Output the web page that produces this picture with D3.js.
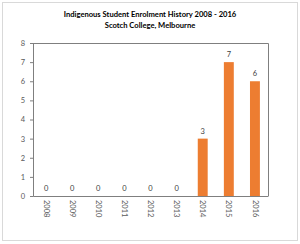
<!DOCTYPE html>
<html>
<head>
<meta charset="utf-8">
<script src="https://cdn.jsdelivr.net/npm/d3@7"></script>
<style>
  body { margin: 0; background: #fff; }
  text { font-family: Lato, "Open Sans", sans-serif; }
</style>
</head>
<body>
<div class="canvas"></div>
<script>
const years = ['2008', '2009', '2010', '2011', '2012', '2013', '2014', '2015', '2016'];
const enrolments = [0, 0, 0, 0, 0, 0, 3, 7, 6];
const yTicks = [0, 1, 2, 3, 4, 5, 6, 7, 8];
const titleLines = ['Indigenous Student Enrolment History 2008 - 2016', 'Scotch College, Melbourne'];

const svg = d3.select('.canvas')
    .append('svg')
        .attr('width', 300)
        .attr('height', 244);

// outer chart frame
svg.append('rect')
    .attr('x', 2.5).attr('y', 2.5)
    .attr('width', 295).attr('height', 238)
    .attr('fill', '#fff')
    .attr('stroke', '#d9d9d9');

const margin = {top: 43, right: 32, bottom: 48, left: 33};
const graphWidth = 300 - margin.left - margin.right;
const graphHeight = 244 - margin.top - margin.bottom;

const graph = svg.append('g')
    .attr('transform', `translate(${margin.left}, ${margin.top})`);

// title
svg.selectAll('text.title')
    .data(titleLines)
    .enter()
    .append('text')
        .attr('class', 'title')
        .attr('x', 150)
        .attr('y', (d, i) => 17 + i * 10.5)
        .attr('text-anchor', 'middle')
        .attr('font-size', 7.6)
        .attr('font-weight', 'bold')
        .attr('fill', '#000')
        .text(d => d);

const y = d3.scaleLinear()
    .domain([0, 8])
    .range([graphHeight, 0]);

const x = d3.scaleBand()
    .domain(years)
    .range([0, graphWidth])
    .paddingInner(0.62)
    .paddingOuter(0.31);

// plot area border (top and right)
graph.append('path')
    .attr('d', `M0,0.5H${graphWidth + 0.5}V${graphHeight}`)
    .attr('fill', 'none')
    .attr('stroke', '#7f7f7f')
    .attr('stroke-width', 1);

// bars
graph.selectAll('rect.bar')
    .data(enrolments)
    .enter()
    .append('rect')
        .attr('class', 'bar')
        .attr('x', (d, i) => x(years[i]))
        .attr('y', d => y(d))
        .attr('width', x.bandwidth())
        .attr('height', d => graphHeight - y(d))
        .attr('fill', '#ed7d31');

// value labels
graph.selectAll('text.val')
    .data(enrolments)
    .enter()
    .append('text')
        .attr('class', 'val')
        .attr('x', (d, i) => x(years[i]) + x.bandwidth() / 2)
        .attr('y', d => y(d) - 5)
        .attr('text-anchor', 'middle')
        .attr('font-size', 7.5)
        .attr('fill', '#404040')
        .text(d => d);

// axes
const yAxis = d3.axisLeft(y)
    .tickValues(yTicks)
    .tickSize(3)
    .tickPadding(5)
    .tickFormat(d3.format('d'));

const xAxis = d3.axisBottom(x)
    .tickSize(0)
    .tickPadding(4);

const yAxisGroup = graph.append('g').call(yAxis);
const xAxisGroup = graph.append('g')
    .attr('transform', `translate(0, ${graphHeight})`)
    .call(xAxis);

[yAxisGroup, xAxisGroup].forEach(g => {
    g.select('.domain').attr('stroke', '#7f7f7f');
    g.selectAll('.tick line').attr('stroke', '#7f7f7f');
    g.selectAll('text')
        .attr('font-family', 'Lato, "Open Sans", sans-serif')
        .attr('font-size', 7.5)
        .attr('fill', '#595959');
});

xAxisGroup.selectAll('text')
    .attr('transform', 'rotate(90)')
    .attr('text-anchor', 'start')
    .attr('dy', '0.32em')
    .attr('x', 4)
    .attr('y', 0);
</script>
</body>
</html>
